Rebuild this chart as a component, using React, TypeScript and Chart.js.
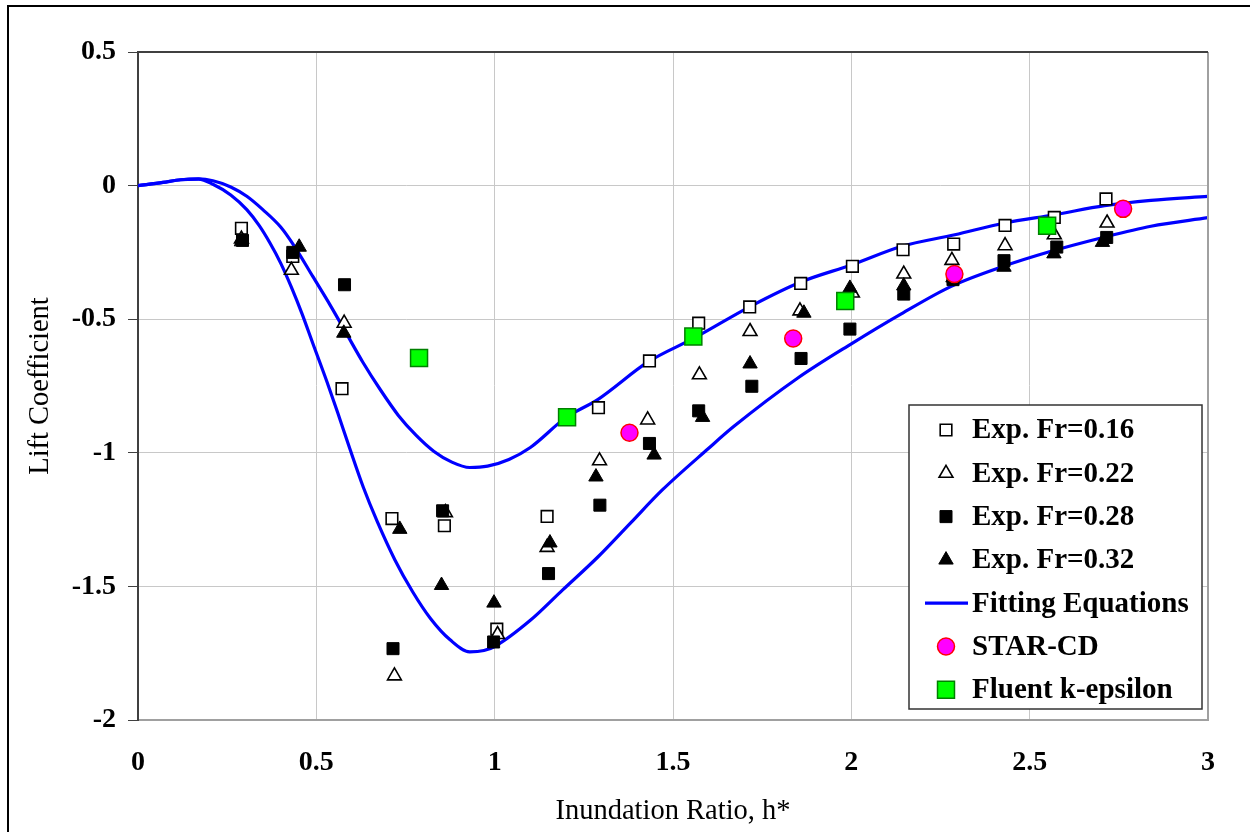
import React, { useEffect, useRef } from "react";
import { Chart, registerables } from "chart.js";

Chart.register(...registerables);

// ---------- data ----------
type P = [number, number];

const expFr016: P[] = [
  [0.29, -0.16], [0.434, -0.265], [0.572, -0.76], [0.712, -1.246], [0.859, -1.273],
  [1.006, -1.66], [1.147, -1.238], [1.291, -0.831], [1.434, -0.656], [1.572, -0.515],
  [1.715, -0.454], [1.858, -0.366], [2.003, -0.302], [2.145, -0.24], [2.287, -0.219],
  [2.431, -0.149], [2.569, -0.119], [2.714, -0.05],
];

const expFr022: P[] = [
  [0.29, -0.2], [0.43, -0.317], [0.578, -0.515], [0.719, -1.835], [0.862, -1.224],
  [1.008, -1.68], [1.147, -1.354], [1.294, -1.03], [1.429, -0.877], [1.574, -0.708],
  [1.716, -0.546], [1.856, -0.469], [2.003, -0.402], [2.147, -0.331], [2.282, -0.28],
  [2.431, -0.225], [2.569, -0.184], [2.717, -0.14],
];

const expFr028: P[] = [
  [0.293, -0.205], [0.434, -0.25], [0.579, -0.371], [0.715, -1.733], [0.854, -1.217],
  [0.997, -1.708], [1.151, -1.452], [1.295, -1.196], [1.434, -0.965], [1.572, -0.843],
  [1.721, -0.751], [1.859, -0.647], [1.996, -0.537], [2.147, -0.406], [2.285, -0.352],
  [2.428, -0.281], [2.576, -0.23], [2.716, -0.194],
];

const expFr032: P[] = [
  [0.29, -0.21], [0.452, -0.23], [0.577, -0.552], [0.734, -1.286], [0.851, -1.496],
  [0.998, -1.562], [1.155, -1.337], [1.284, -1.09], [1.447, -1.008], [1.583, -0.867],
  [1.716, -0.667], [1.867, -0.477], [1.996, -0.384], [2.147, -0.375], [2.285, -0.345],
  [2.428, -0.305], [2.568, -0.255], [2.704, -0.212],
];

const starCD: P[] = [
  [1.378, -0.925], [1.837, -0.572], [2.289, -0.331], [2.762, -0.087],
];

const fluentKE: P[] = [
  [0.788, -0.645], [1.203, -0.867], [1.557, -0.565], [1.983, -0.432], [2.549, -0.15],
];

const fitUpper: P[] = [
  [0, 0], [0.07, 0.012], [0.12, 0.022], [0.17, 0.025], [0.21, 0.018], [0.26, -0.005],
  [0.305, -0.04], [0.35, -0.09], [0.4, -0.155], [0.44, -0.23], [0.49, -0.34],
  [0.54, -0.45], [0.585, -0.555], [0.63, -0.66], [0.68, -0.765], [0.73, -0.86],
  [0.78, -0.935], [0.83, -0.995], [0.88, -1.035], [0.93, -1.055], [0.98, -1.05],
  [1.04, -1.025], [1.1, -0.98], [1.2, -0.868], [1.29, -0.8], [1.43, -0.66],
  [1.56, -0.57], [1.72, -0.45], [1.86, -0.36], [2.0, -0.297], [2.14, -0.228],
  [2.29, -0.184], [2.43, -0.14], [2.57, -0.109], [2.71, -0.075], [2.84, -0.055],
  [3.0, -0.04],
];

const fitLower: P[] = [
  [0, 0], [0.07, 0.012], [0.12, 0.022], [0.17, 0.024], [0.21, 0.005], [0.26, -0.035],
  [0.305, -0.09], [0.34, -0.15], [0.37, -0.215], [0.4, -0.29], [0.43, -0.38],
  [0.46, -0.48], [0.49, -0.59], [0.53, -0.735], [0.56, -0.85], [0.594, -0.985],
  [0.632, -1.13], [0.67, -1.255], [0.72, -1.4], [0.77, -1.52], [0.82, -1.62],
  [0.875, -1.7], [0.93, -1.745], [0.97, -1.74], [1.0, -1.725], [1.1, -1.627],
  [1.19, -1.514], [1.29, -1.389], [1.38, -1.264], [1.47, -1.139], [1.6, -0.983],
  [1.67, -0.902], [1.85, -0.72], [2.0, -0.592], [2.14, -0.48], [2.28, -0.377],
  [2.42, -0.305], [2.56, -0.246], [2.7, -0.196], [2.84, -0.152], [3.0, -0.12],
];

const seriesLabels = [
  "Exp. Fr=0.16",
  "Exp. Fr=0.22",
  "Exp. Fr=0.28",
  "Exp. Fr=0.32",
  "Fitting Equations",
  "STAR-CD",
  "Fluent k-epsilon",
];

const xTickValues = [0, 0.5, 1, 1.5, 2, 2.5, 3];
const yTickValues = [0.5, 0, -0.5, -1, -1.5, -2];

const xTitle = "Inundation Ratio, h*";
const yTitle = "Lift Coefficient";

// ---------- styles ----------
const FONT = '"Liberation Serif", "Times New Roman", Times, serif';

type MarkerStyle = {
  kind: "rect" | "triangle" | "circle" | "line";
  r: number;
  fill: string;
  stroke: string;
  lw: number;
};

const markerStyles: MarkerStyle[] = [
  { kind: "rect", r: 8.2, fill: "#ffffff", stroke: "#000000", lw: 1.6 },
  { kind: "triangle", r: 8, fill: "#ffffff", stroke: "#000000", lw: 1.6 },
  { kind: "rect", r: 8.5, fill: "#000000", stroke: "#000000", lw: 1 },
  { kind: "triangle", r: 8.3, fill: "#000000", stroke: "#000000", lw: 1 },
  { kind: "line", r: 0, fill: "#0000ff", stroke: "#0000ff", lw: 3.2 },
  { kind: "circle", r: 8.5, fill: "#ff00ff", stroke: "#ff0000", lw: 1.5 },
  { kind: "rect", r: 12, fill: "#00ff00", stroke: "#008000", lw: 1.5 },
];

function drawMarker(ctx: CanvasRenderingContext2D, m: MarkerStyle, x: number, y: number) {
  ctx.save();
  ctx.fillStyle = m.fill;
  ctx.strokeStyle = m.stroke;
  ctx.lineWidth = m.lw;
  ctx.beginPath();
  if (m.kind === "rect") {
    const s = Math.SQRT1_2 * m.r;
    ctx.rect(x - s, y - s, 2 * s, 2 * s);
    ctx.fill();
    ctx.stroke();
  } else if (m.kind === "triangle") {
    let rad = 0;
    ctx.moveTo(x + Math.sin(rad) * m.r, y - Math.cos(rad) * m.r);
    rad += (2 * Math.PI) / 3;
    ctx.lineTo(x + Math.sin(rad) * m.r, y - Math.cos(rad) * m.r);
    rad += (2 * Math.PI) / 3;
    ctx.lineTo(x + Math.sin(rad) * m.r, y - Math.cos(rad) * m.r);
    ctx.closePath();
    ctx.fill();
    ctx.stroke();
  } else if (m.kind === "circle") {
    ctx.arc(x, y, m.r, 0, Math.PI * 2);
    ctx.fill();
    ctx.stroke();
  } else {
    ctx.moveTo(x - 21, y);
    ctx.lineTo(x + 22, y);
    ctx.stroke();
  }
  ctx.restore();
}

const framePlugin = {
  id: "frame",
  beforeDraw(chart: any) {
    const { ctx, width, height } = chart;
    ctx.save();
    ctx.fillStyle = "#ffffff";
    ctx.fillRect(0, 0, width, height);
    ctx.strokeStyle = "#000000";
    ctx.lineWidth = 2;
    ctx.beginPath();
    ctx.moveTo(8, height + 2);
    ctx.lineTo(8, 6);
    ctx.lineTo(width + 2, 6);
    ctx.stroke();
    ctx.restore();
  },
  afterDatasetsDraw(chart: any) {
    const { ctx, chartArea } = chart;
    const { left, right, top, bottom } = chartArea;
    ctx.save();
    ctx.lineWidth = 2;
    ctx.strokeStyle = "#a0a0a0";
    ctx.beginPath();
    ctx.moveTo(right, top);
    ctx.lineTo(right, bottom);
    ctx.stroke();
    ctx.strokeStyle = "#404040";
    ctx.beginPath();
    ctx.moveTo(left, top);
    ctx.lineTo(right, top);
    ctx.stroke();
    ctx.restore();
  },
};

const legendPlugin = {
  id: "boxLegend",
  afterDraw(chart: any) {
    const { ctx, chartArea } = chart;
    const bw = 293;
    const bh = 304;
    const bx = chartArea.right - 6 - bw;
    const by = chartArea.bottom - 11 - bh;
    ctx.save();
    ctx.fillStyle = "#ffffff";
    ctx.fillRect(bx, by, bw, bh);
    ctx.strokeStyle = "#333333";
    ctx.lineWidth = 1.5;
    ctx.strokeRect(bx, by, bw, bh);
    ctx.font = `bold 29px ${FONT}`;
    ctx.textBaseline = "middle";
    ctx.textAlign = "left";
    seriesLabels.forEach((label, i) => {
      const ry = by + 25 + i * 43.3;
      drawMarker(ctx, markerStyles[i], bx + 37, ry);
      ctx.fillStyle = "#000000";
      ctx.fillText(label, bx + 63, ry + 1);
    });
    ctx.restore();
  },
};

function pointDataset(label: string, data: P[], m: MarkerStyle, order: number) {
  return {
    label,
    data: data.map(([x, y]) => ({ x, y })),
    showLine: false,
    pointStyle: m.kind,
    pointRadius: m.r,
    pointHoverRadius: m.r,
    pointBackgroundColor: m.fill,
    pointBorderColor: m.stroke,
    pointBorderWidth: m.lw,
    backgroundColor: m.fill,
    borderColor: m.stroke,
    order,
  };
}

function lineDataset(label: string, data: P[], m: MarkerStyle, order: number) {
  return {
    label,
    data: data.map(([x, y]) => ({ x, y })),
    showLine: true,
    pointRadius: 0,
    pointHoverRadius: 0,
    borderColor: m.stroke,
    backgroundColor: m.stroke,
    borderWidth: m.lw,
    borderCapStyle: "round",
    borderJoinStyle: "round",
    cubicInterpolationMode: "monotone",
    fill: false,
    order,
  };
}

export default function App() {
  const canvasRef = useRef<HTMLCanvasElement | null>(null);

  useEffect(() => {
    if (!canvasRef.current) return;
    const chart = new Chart(canvasRef.current, {
      type: "scatter",
      data: {
        datasets: [
          pointDataset(seriesLabels[6], fluentKE, markerStyles[6], 0),
          pointDataset(seriesLabels[5], starCD, markerStyles[5], 1),
          pointDataset(seriesLabels[3], expFr032, markerStyles[3], 2),
          pointDataset(seriesLabels[2], expFr028, markerStyles[2], 3),
          pointDataset(seriesLabels[1], expFr022, markerStyles[1], 4),
          pointDataset(seriesLabels[0], expFr016, markerStyles[0], 5),
          lineDataset(seriesLabels[4], fitUpper, markerStyles[4], 6),
          lineDataset(seriesLabels[4], fitLower, markerStyles[4], 7),
        ] as any,
      },
      options: {
        animation: false,
        responsive: true,
        maintainAspectRatio: false,
        events: [],
        layout: { padding: { left: 0, top: 52, right: 42, bottom: 0 } },
        plugins: {
          legend: { display: false },
          tooltip: { enabled: false },
        },
        scales: {
          x: {
            type: "linear",
            min: 0,
            max: 3,
            afterBuildTicks: (scale: any) => {
              scale.ticks = xTickValues.map((v) => ({ value: v }));
            },
            afterFit: (scale: any) => {
              scale.height = 112;
            },
            ticks: {
              font: { family: FONT, size: 28, weight: "bold", lineHeight: 1.2 },
              color: "#000000",
              padding: 26,
              maxRotation: 0,
              callback: (v: any) => String(v),
            },
            grid: {
              color: "#c8c8c8",
              lineWidth: 1,
              drawTicks: false,
            },
            border: { display: true, color: "#a0a0a0", width: 2 },
            title: {
              display: true,
              text: xTitle,
              font: { family: FONT, size: 28.5, weight: "normal", lineHeight: 1.2 },
              color: "#000000",
              padding: { top: 0, bottom: 3 },
            },
          },
          y: {
            type: "linear",
            min: -2,
            max: 0.5,
            afterBuildTicks: (scale: any) => {
              scale.ticks = yTickValues.map((v) => ({ value: v }));
            },
            afterFit: (scale: any) => {
              scale.width = 138;
            },
            ticks: {
              font: { family: FONT, size: 28, weight: "bold", lineHeight: 1.2 },
              color: "#000000",
              padding: 12,
              callback: (v: any) => String(v),
            },
            grid: {
              color: "#c8c8c8",
              lineWidth: 1,
              drawTicks: true,
              tickLength: 10,
              tickColor: "#404040",
            },
            border: { display: true, color: "#404040", width: 2 },
            title: {
              display: true,
              text: yTitle,
              font: { family: FONT, size: 28.5, weight: "normal", lineHeight: 1.2 },
              color: "#000000",
              padding: { top: 23, bottom: 0 },
            },
          },
        },
      } as any,
      plugins: [framePlugin, legendPlugin],
    });
    return () => chart.destroy();
  }, []);

  return (
    <div
      style={{
        position: "absolute",
        left: 0,
        top: 0,
        width: 1250,
        height: 832,
        overflow: "hidden",
      }}
    >
      <canvas ref={canvasRef} />
    </div>
  );
}
